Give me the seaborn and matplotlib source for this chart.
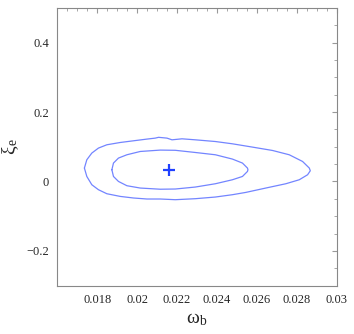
import numpy as np
import pandas as pd
import matplotlib
matplotlib.use("Agg")
import matplotlib.pyplot as plt
import seaborn as sns
from matplotlib.ticker import MultipleLocator, FixedLocator, FuncFormatter

# ── DATA ──────────────────────────────────────────────────────
# outer contour
outer_wb = [0.017356, 0.017477, 0.017728, 0.018060, 0.018481, 0.019150,
            0.019818, 0.020491, 0.020908, 0.021074, 0.021495, 0.021747,
            0.022249, 0.022917, 0.023922, 0.024776, 0.025780, 0.026785,
            0.027624, 0.028292, 0.028629, 0.028679, 0.028543, 0.028126,
            0.027453, 0.026448, 0.025444, 0.024776, 0.023922, 0.022917,
            0.021912, 0.021159, 0.020491, 0.019818, 0.019150, 0.018481,
            0.018060, 0.017728, 0.017477, 0.017356]
outer_xi = [0.0387, 0.0626, 0.0819, 0.0963, 0.1058, 0.1124,
            0.1173, 0.1222, 0.1250, 0.1273, 0.1250, 0.1201,
            0.1230, 0.1201, 0.1152, 0.1086, 0.0991, 0.0894,
            0.0770, 0.0577, 0.0387, 0.0309, 0.0194, 0.0050,
            -0.0065, -0.0189, -0.0315, -0.0381, -0.0448, -0.0496,
            -0.0525, -0.0505, -0.0505, -0.0476, -0.0430, -0.0353,
            -0.0237, -0.0094, 0.0145, 0.0387]

# inner contour
inner_wb = [0.018733, 0.018813, 0.019064, 0.019486, 0.020154, 0.021159,
            0.021912, 0.022917, 0.023922, 0.024776, 0.025278, 0.025529,
            0.025554, 0.025529, 0.025278, 0.024776, 0.023922, 0.022917,
            0.021912, 0.021159, 0.020154, 0.019486, 0.019064, 0.018813,
            0.018733]
inner_xi = [0.0338, 0.0531, 0.0675, 0.0770, 0.0865, 0.0905,
            0.0899, 0.0836, 0.0770, 0.0646, 0.0531, 0.0387,
            0.0338, 0.0289, 0.0145, 0.0050, -0.0065, -0.0160,
            -0.0217, -0.0223, -0.0189, -0.0122, 0.0001, 0.0145,
            0.0338]

# best fit point
best_wb = [0.021586]
best_xi = [0.0318]

x_ticks = [0.018, 0.020, 0.022, 0.024, 0.026, 0.028, 0.030]
y_ticks = [-0.2, 0.0, 0.2, 0.4]


def tick_fmt(v, pos):
    if abs(v) < 1e-9:
        return "0"
    s = "%g" % abs(round(v, 4))
    return ("\u2212" + s) if v < 0 else s


# ── STYLE ─────────────────────────────────────────────────────
sns.set_style("white")
plt.rcParams["font.family"] = ["Liberation Serif", "DejaVu Serif"]
plt.rcParams["mathtext.fontset"] = "stix"

fig = plt.figure(figsize=(3.54, 3.34), dpi=100)
ax = fig.add_axes([0.162, 0.145, 0.789, 0.831])

line_col = "#7385ff"
sns.lineplot(x=outer_wb, y=outer_xi, sort=False, estimator=None,
             color=line_col, linewidth=0.9, ax=ax)
sns.lineplot(x=inner_wb, y=inner_xi, sort=False, estimator=None,
             color=line_col, linewidth=0.9, ax=ax)
sns.scatterplot(x=best_wb, y=best_xi, marker="+", s=80, color="#2040ff",
                linewidth=1.6, ax=ax)

ax.set_xlim(0.016, 0.030)
ax.set_ylim(-0.3, 0.5)

ax.xaxis.set_major_locator(FixedLocator(x_ticks))
ax.xaxis.set_minor_locator(MultipleLocator(0.0005))
ax.yaxis.set_major_locator(FixedLocator(y_ticks))
ax.yaxis.set_minor_locator(MultipleLocator(0.05))
ax.xaxis.set_major_formatter(FuncFormatter(tick_fmt))
ax.yaxis.set_major_formatter(FuncFormatter(tick_fmt))

ax.tick_params(which="both", direction="in", top=True, right=True,
               color="#999999", labelsize=9, pad=6)
ax.tick_params(which="major", length=3.5, width=0.8)
ax.tick_params(which="minor", length=2, width=0.6)

for s in ax.spines.values():
    s.set_color("#888888")
    s.set_linewidth(0.8)

ax.set_xlabel("\u03c9$_\\mathregular{b}$", fontsize=14, labelpad=4)
ax.set_ylabel("\u03be$_\\mathregular{e}$", fontsize=14, labelpad=4)

fig.savefig("out.png", dpi=100, facecolor="white")
